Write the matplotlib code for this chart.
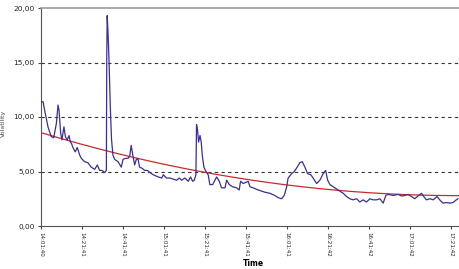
import numpy as np
import matplotlib
matplotlib.use('Agg')
import matplotlib.pyplot as plt

# minutes after 14:01:40 and the volatility
minutes = [0.0, 1.0, 1.8, 3.4, 5.0, 6.2, 7.5, 8.3, 8.8, 9.6, 10.2, 11.2, 11.9, 12.8,
           13.7, 14.3, 14.8, 15.6, 16.7, 17.7, 18.9, 19.7, 21.3, 22.9, 24.5, 26.2,
           27.5, 28.6, 29.8, 31.1, 31.9, 32.1, 32.3, 32.7, 33.2, 33.8, 34.4, 35.1,
           36.0, 37.6, 39.2, 40.0, 41.1, 42.4, 43.3, 44.0, 44.9, 45.7, 46.5, 47.3,
           48.1, 49.3, 50.6, 51.9, 53.2, 54.8, 57.2, 58.9, 59.7, 61.3, 62.9, 64.5,
           66.2, 67.5, 68.6, 70.2, 71.9, 73.0, 74.0, 74.8, 75.6, 75.9, 76.4, 76.9,
           77.6, 78.2, 78.7, 79.5, 80.5, 81.6, 82.4, 83.8, 84.9, 85.7, 87.0, 88.1,
           89.8, 90.6, 91.9, 93.5, 95.5, 96.7, 97.4, 98.7, 100.0, 101.1, 102.0,
           103.6, 106.0, 109.3, 111.7, 114.1, 115.8, 117.4, 118.7, 119.9, 120.6,
           122.3, 123.6, 124.7, 126.3, 127.5, 128.8, 130.1, 131.7, 132.8, 134.5,
           136.1, 137.7, 138.9, 139.9, 141.0, 142.6, 145.0, 147.5, 149.1, 150.7,
           152.3, 154.0, 155.6, 157.2, 158.9, 160.5, 162.1, 163.8, 165.4, 167.0,
           168.3, 169.4, 171.9, 174.3, 176.0, 177.6, 179.2, 180.8, 182.4, 184.0,
           185.7, 186.8, 188.1, 189.8, 191.4, 193.3, 194.6, 196.2, 197.9, 199.5,
           201.1, 202.7, 203.5]
volatility = [11.4, 11.4, 10.6, 9.1, 8.2, 8.1, 9.4, 11.1, 10.6, 8.5, 7.9, 9.1, 8.2, 7.9,
              8.3, 7.7, 7.6, 7.2, 6.8, 7.2, 6.5, 6.2, 5.9, 5.8, 5.4, 5.2,
              5.6, 5.1, 5.1, 4.9, 5.1, 15.6, 19.3, 17.8, 15.2, 11.0, 8.0, 6.5,
              6.1, 5.9, 5.4, 6.1, 6.2, 6.2, 6.4, 7.4, 6.4, 5.6, 6.1, 6.2,
              5.4, 5.3, 5.1, 5.1, 4.9, 4.7, 4.5, 4.4, 4.7, 4.4, 4.4, 4.3,
              4.2, 4.4, 4.2, 4.4, 4.1, 4.5, 4.1, 4.2, 4.7, 9.3, 8.8, 7.7,
              8.3, 7.7, 6.5, 5.4, 5.0, 4.7, 3.8, 3.8, 4.2, 4.5, 4.1, 3.5,
              3.5, 4.2, 3.8, 3.6, 3.5, 3.3, 4.1, 3.9, 4.0, 4.1, 3.6,
              3.5, 3.3, 3.1, 3.0, 2.8, 2.6, 2.5, 2.8, 3.6, 4.4,
              4.8, 5.0, 5.3, 5.8, 5.9, 5.4, 4.8, 4.7, 4.4, 3.9,
              4.2, 4.8, 5.1, 4.2, 3.8, 3.6, 3.3, 3.0, 2.7, 2.5,
              2.4, 2.5, 2.2, 2.4, 2.2, 2.5, 2.4, 2.4, 2.5, 2.1,
              2.8, 2.9, 2.8, 2.9, 2.75, 2.8, 2.9, 2.7, 2.5, 2.75,
              3.0, 2.7, 2.4, 2.5, 2.4, 2.7, 2.4, 2.1, 2.15, 2.1,
              2.15, 2.4, 2.5]

# trend line values
trend_minutes = [0, 25, 50, 75, 100, 125, 150, 175, 204]
trend_values = [8.65, 7.18, 6.01, 5.03, 4.32, 3.76, 3.2, 2.9, 2.75]

tick_labels = ['14:01:40', '14:21:41', '14:41:41', '15:01:41', '15:21:41', '15:41:41',
               '16:01:41', '16:21:42', '16:41:42', '17:01:42', '17:21:42']
y_ticks = [0, 5, 10, 15, 20]


def to_minutes(label):
    h, m, s = [int(p) for p in label.split(':')]
    return (h * 3600 + m * 60 + s - (14 * 3600 + 1 * 60 + 40)) / 60.0


tick_pos = [to_minutes(lbl) for lbl in tick_labels]

fig = plt.figure(figsize=(4.59, 2.69), dpi=100)
ax = fig.add_axes([41 / 459, 1 - 226 / 269, 1 - 41 / 459, (226 - 8) / 269])

# trend - smooth 2nd order curve through the read points
coef = np.polyfit(np.array(trend_minutes, dtype=float), np.array(trend_values), 2)
xs = np.linspace(0, 204, 200)
ax.plot(xs, np.polyval(coef, xs), color='#cc2a2a', linewidth=0.9, zorder=3)

ax.plot(minutes, volatility, color='#3b2e96', linewidth=0.9, zorder=4)

ax.set_xlim(0, 204)
ax.set_ylim(0, 20)
ax.set_yticks(y_ticks)
ax.set_yticklabels([('%.2f' % v).replace('.', ',') for v in y_ticks], fontsize=5.3)
ax.set_xticks(tick_pos)
ax.set_xticklabels(tick_labels, rotation=270, fontsize=4.0)
ax.tick_params(axis='both', length=2.5, width=0.8, pad=2, colors='#444444',
               labelcolor='#222222')
ax.tick_params(axis='x', pad=1.5)

for yv in [5, 10, 15]:
    ax.axhline(yv, color='#333333', linewidth=0.8, linestyle=(0, (3, 3)), zorder=1)

ax.spines['right'].set_visible(False)
ax.spines['top'].set_color('#999999')
ax.spines['top'].set_linewidth(1.2)
ax.spines['left'].set_color('#555555')
ax.spines['bottom'].set_color('#555555')

ax.set_xlabel('Time', fontsize=5.5, fontweight='bold')
ax.xaxis.set_label_coords(0.508, -0.15)
ax.set_ylabel('Volatility', fontsize=4.5, color='#444444')
ax.yaxis.set_label_coords(-0.085, 0.47)

fig.savefig('out.png', dpi=100)
